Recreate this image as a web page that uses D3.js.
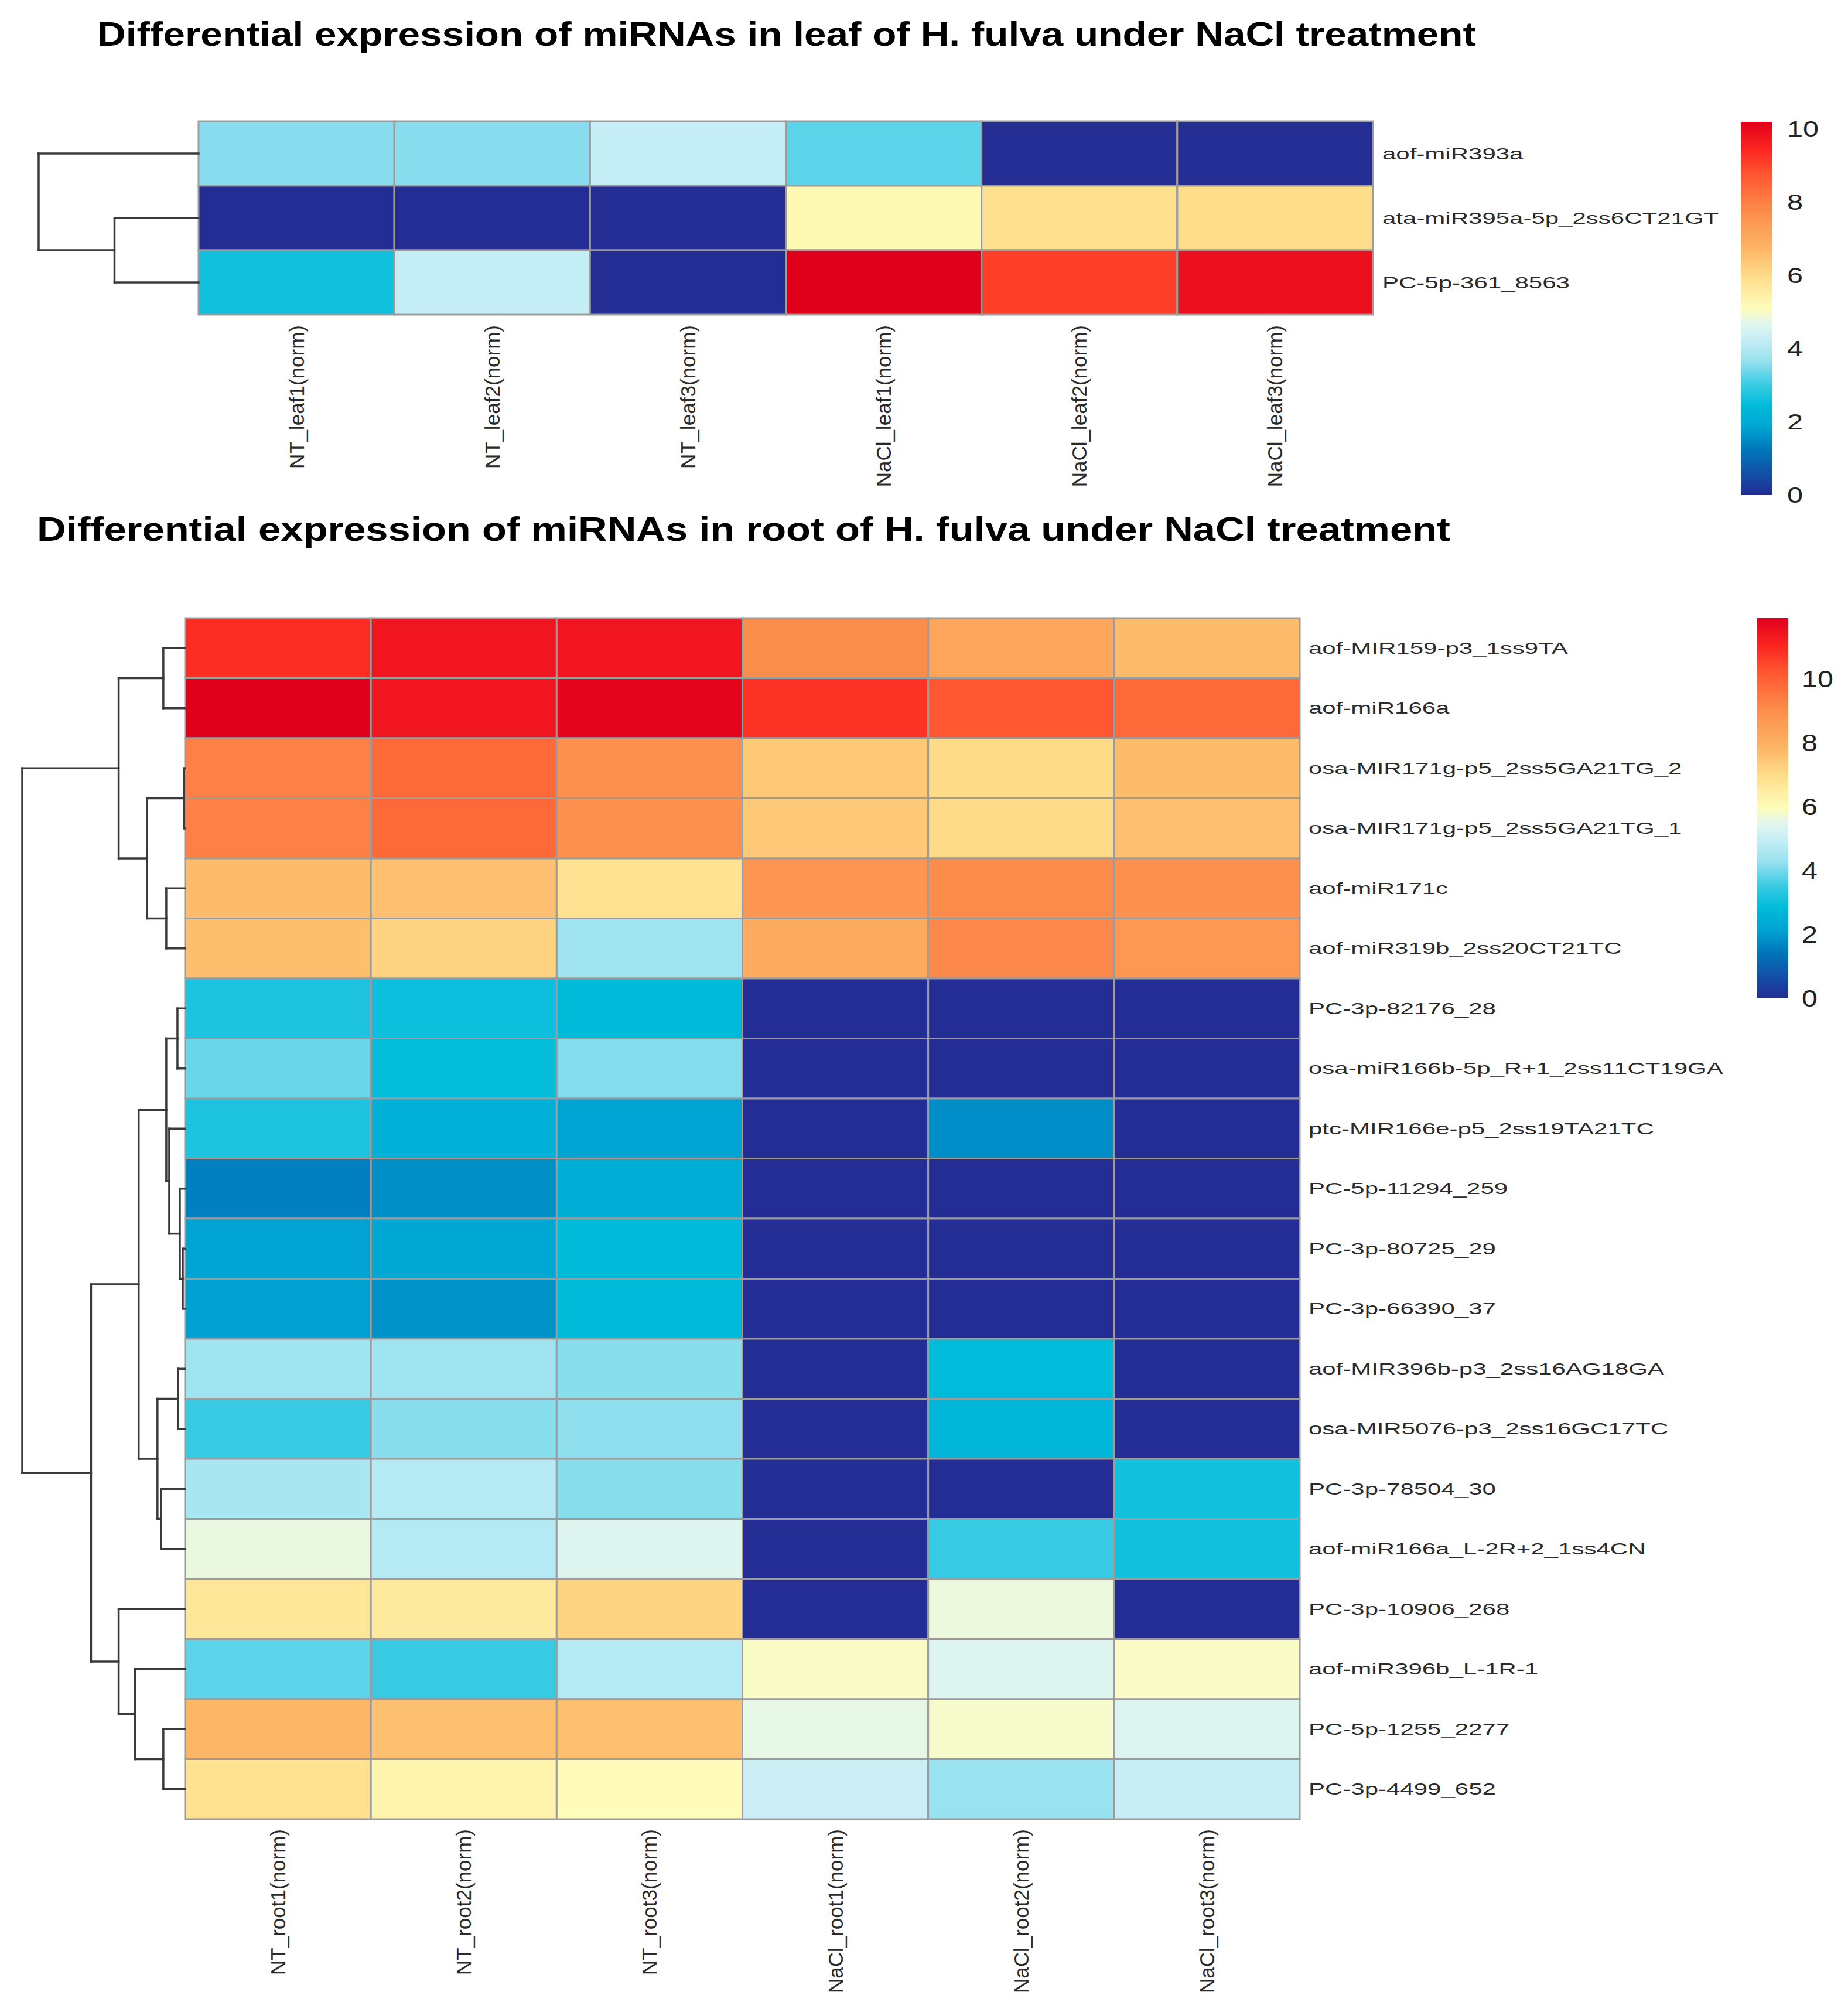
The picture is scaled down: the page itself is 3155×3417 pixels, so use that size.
<!DOCTYPE html>
<html><head><meta charset="utf-8">
<script src="https://cdn.jsdelivr.net/npm/d3@7"></script>
<style>body{margin:0;background:#fff} svg{display:block}</style>
</head><body>
<svg id="chart" width="3155" height="3417"></svg>
<script>
// ---------------- DATA ----------------
const leafTitle = "Differential expression of miRNAs in leaf of H. fulva under NaCl treatment";
const leafSamples = ["NT_leaf1(norm)","NT_leaf2(norm)","NT_leaf3(norm)","NaCl_leaf1(norm)","NaCl_leaf2(norm)","NaCl_leaf3(norm)"];
const leafGenes = ["aof-miR393a","ata-miR395a-5p_2ss6CT21GT","PC-5p-361_8563"];
const leafValues = [
  [3.55, 3.55, 4.25, 3.25, 0, 0],
  [0, 0, 0, 5.2, 5.9, 5.95],
  [2.6, 4.25, 0, 10.2, 9.1, 9.9]
];
// row dendrogram: leaves are row indices, nodes carry merge height
const leafTree = {h: 15.6, c: [0, {h: 8.2, c: [1, 2]}]};
const leafLegendTicks = [0, 2, 4, 6, 8, 10];
const leafRange = [0, 10.2];

const rootTitle = "Differential expression of miRNAs in root of H. fulva under NaCl treatment";
const rootSamples = ["NT_root1(norm)","NT_root2(norm)","NT_root3(norm)","NaCl_root1(norm)","NaCl_root2(norm)","NaCl_root3(norm)"];
const rootGenes = [
  "aof-MIR159-p3_1ss9TA","aof-miR166a","osa-MIR171g-p5_2ss5GA21TG_2","osa-MIR171g-p5_2ss5GA21TG_1",
  "aof-miR171c","aof-miR319b_2ss20CT21TC","PC-3p-82176_28","osa-miR166b-5p_R+1_2ss11CT19GA",
  "ptc-MIR166e-p5_2ss19TA21TC","PC-5p-11294_259","PC-3p-80725_29","PC-3p-66390_37",
  "aof-MIR396b-p3_2ss16AG18GA","osa-MIR5076-p3_2ss16GC17TC","PC-3p-78504_30","aof-miR166a_L-2R+2_1ss4CN",
  "PC-3p-10906_268","aof-miR396b_L-1R-1","PC-5p-1255_2277","PC-3p-4499_652"
];
const rootValues = [
  [10.9, 11.4, 11.4, 9.0, 8.3, 7.7],
  [11.9, 11.4, 11.8, 10.8, 10.2, 9.8],
  [9.3, 9.8, 8.9, 7.4, 7.0, 7.7],
  [9.3, 9.8, 8.9, 7.4, 7.0, 7.6],
  [7.7, 7.6, 6.8, 8.75, 9.05, 8.9],
  [7.65, 7.15, 4.4, 8.15, 9.1, 8.7],
  [3.2, 3.0, 2.8, 0, 0, 0],
  [3.9, 2.9, 4.1, 0, 0, 0],
  [3.2, 2.5, 2.15, 0, 1.8, 0],
  [1.6, 1.85, 2.45, 0, 0, 0],
  [2.15, 2.25, 2.8, 0, 0, 0],
  [2.1, 1.9, 2.8, 0, 0, 0],
  [4.4, 4.4, 4.15, 0, 2.85, 0],
  [3.5, 4.15, 4.2, 0, 2.65, 0],
  [4.5, 4.7, 4.15, 0, 0, 3.05],
  [5.6, 4.7, 5.4, 0, 3.5, 3.05],
  [6.65, 6.55, 7.15, 0, 5.65, 0],
  [3.8, 3.5, 4.7, 5.85, 5.4, 5.85],
  [7.85, 7.6, 7.6, 5.55, 5.8, 5.35],
  [6.8, 6.25, 6.0, 5.05, 4.3, 5.0]
];
const rootTree = {h: 277, c: [
  {h: 113, c: [ {h: 37, c: [0, 1]}, {h: 65, c: [ {h: 2, c: [2, 3]}, {h: 32, c: [4, 5]} ]} ]},
  {h: 160, c: [
    {h: 79, c: [
      {h: 32, c: [ {h: 13, c: [6, 7]}, {h: 27, c: [8, {h: 9, c: [9, {h: 4, c: [10, 11]}]}]} ]},
      {h: 47, c: [ {h: 12, c: [12, 13]}, {h: 41, c: [14, 15]} ]}
    ]},
    {h: 113, c: [16, {h: 85, c: [17, {h: 37, c: [18, 19]}]}]}
  ]}
]};
const rootLegendTicks = [0, 2, 4, 6, 8, 10];
const rootRange = [0, 11.9];

// colour ramp (position along range, colour)
const paletteStops = [
  [0.00, "#232D94"], [0.12, "#0075BA"], [0.18, "#00A3D2"], [0.24, "#00BCDA"],
  [0.30, "#3FCCE4"], [0.36, "#9AE2F0"], [0.42, "#C8EEF5"], [0.46, "#E2F6EE"],
  [0.50, "#FFFDBC"], [0.58, "#FEDF8D"], [0.66, "#FDB566"], [0.76, "#FC8C4C"],
  [0.86, "#FF5530"], [0.93, "#FA2320"], [1.00, "#E1001C"]
];

// ---------------- LAYOUT ----------------
const FONT = "'Liberation Sans', Arial, Helvetica, sans-serif";
const panels = [
  {title: leafTitle, samples: leafSamples, genes: leafGenes, values: leafValues, tree: leafTree,
   ticks: leafLegendTicks, range: leafRange,
   titleX: 166, titleY: 78, titleW: 2354,
   left: 339, right: 2344, top: 207, bottom: 537, treeX: 66,
   rowLabelX: 2360, colLabelTop: 555,
   legX: 2972, legW: 53, legTop: 208, legBottom: 845, legLabelX: 3051, legFont: 36, legStretch: 1.35},
  {title: rootTitle, samples: rootSamples, genes: rootGenes, values: rootValues, tree: rootTree,
   ticks: rootLegendTicks, range: rootRange,
   titleX: 63, titleY: 923, titleW: 2413,
   left: 316, right: 2219, top: 1055, bottom: 3105, treeX: 38,
   rowLabelX: 2234, colLabelTop: 3122,
   legX: 3000, legW: 53, legTop: 1055, legBottom: 1704, legLabelX: 3076, legFont: 41, legStretch: 1.18}
];

const svg = d3.select("#chart");
const defs = svg.append("defs");

function stretch(sel, k) {
  sel.each(function() {
    const w = this.getComputedTextLength();
    d3.select(this).attr("textLength", w * k).attr("lengthAdjust", "spacingAndGlyphs");
  });
}

panels.forEach((p, pi) => {
  const g = svg.append("g");
  const nrow = p.genes.length, ncol = p.samples.length;
  const x = d3.scaleBand().domain(d3.range(ncol)).range([p.left, p.right]);
  const y = d3.scaleBand().domain(d3.range(nrow)).range([p.top, p.bottom]);
  const span = p.range[1] - p.range[0];
  const color = d3.scaleLinear()
    .domain(paletteStops.map(s => p.range[0] + s[0] * span))
    .range(paletteStops.map(s => s[1]))
    .interpolate(d3.interpolateRgb).clamp(true);

  // title
  g.append("text").attr("x", p.titleX).attr("y", p.titleY)
    .attr("font-family", FONT).attr("font-weight", "bold").attr("font-size", 58)
    .attr("fill", "#000").attr("textLength", p.titleW).attr("lengthAdjust", "spacingAndGlyphs")
    .text(p.title);

  // cells
  const cells = [];
  p.values.forEach((row, r) => row.forEach((v, c) => cells.push({r, c, v})));
  g.append("g").selectAll("rect").data(cells).join("rect")
    .attr("x", d => x(d.c)).attr("y", d => y(d.r))
    .attr("width", x.bandwidth()).attr("height", y.bandwidth())
    .attr("fill", d => color(d.v))
    .attr("stroke", "#9c9c9c").attr("stroke-width", 3);

  // row labels
  g.append("g").selectAll("text").data(p.genes).join("text")
    .attr("x", p.rowLabelX).attr("y", (d, i) => y(i) + y.bandwidth() / 2)
    .attr("dominant-baseline", "central")
    .attr("font-family", FONT).attr("font-size", 28).attr("fill", "#2a2a2a")
    .text(d => d)
    .call(stretch, 1.5);

  // column labels
  g.append("g").selectAll("text").data(p.samples).join("text")
    .attr("transform", (d, i) => `translate(${x(i) + x.bandwidth() / 2},${p.colLabelTop}) rotate(-90)`)
    .attr("text-anchor", "end").attr("dominant-baseline", "central")
    .attr("font-family", FONT).attr("font-size", 35).attr("fill", "#2a2a2a")
    .text(d => d);

  // dendrogram
  const xt = d3.scaleLinear().domain([0, p.tree.h]).range([p.left, p.treeX]);
  const segs = [];
  function walk(node) {
    if (typeof node === "number") return {y: y(node) + y.bandwidth() / 2, h: 0};
    const a = walk(node.c[0]), b = walk(node.c[1]);
    segs.push([node.h, a.y, node.h, b.y]);
    segs.push([node.h, a.y, a.h, a.y]);
    segs.push([node.h, b.y, b.h, b.y]);
    return {y: (a.y + b.y) / 2, h: node.h};
  }
  walk(p.tree);
  g.append("g").selectAll("line").data(segs).join("line")
    .attr("x1", d => xt(d[0])).attr("y1", d => d[1])
    .attr("x2", d => xt(d[2])).attr("y2", d => d[3])
    .attr("stroke", "#3a3a3a").attr("stroke-width", 3.5).attr("stroke-linecap", "square");

  // legend
  const gid = "grad" + pi;
  const grad = defs.append("linearGradient").attr("id", gid)
    .attr("x1", 0).attr("y1", 1).attr("x2", 0).attr("y2", 0);
  grad.selectAll("stop").data(paletteStops).join("stop")
    .attr("offset", d => d[0]).attr("stop-color", d => d[1]);
  const yl = d3.scaleLinear().domain(p.range).range([p.legBottom, p.legTop]);
  g.append("rect").attr("x", p.legX).attr("y", yl(p.range[1]))
    .attr("width", p.legW).attr("height", yl(p.range[0]) - yl(p.range[1]))
    .attr("fill", `url(#${gid})`);
  g.append("g").selectAll("text").data(p.ticks).join("text")
    .attr("x", p.legLabelX).attr("y", d => yl(d))
    .attr("dominant-baseline", "central")
    .attr("font-family", FONT).attr("font-size", p.legFont).attr("fill", "#222")
    .text(d => d)
    .call(stretch, p.legStretch);
});
</script>
</body></html>
